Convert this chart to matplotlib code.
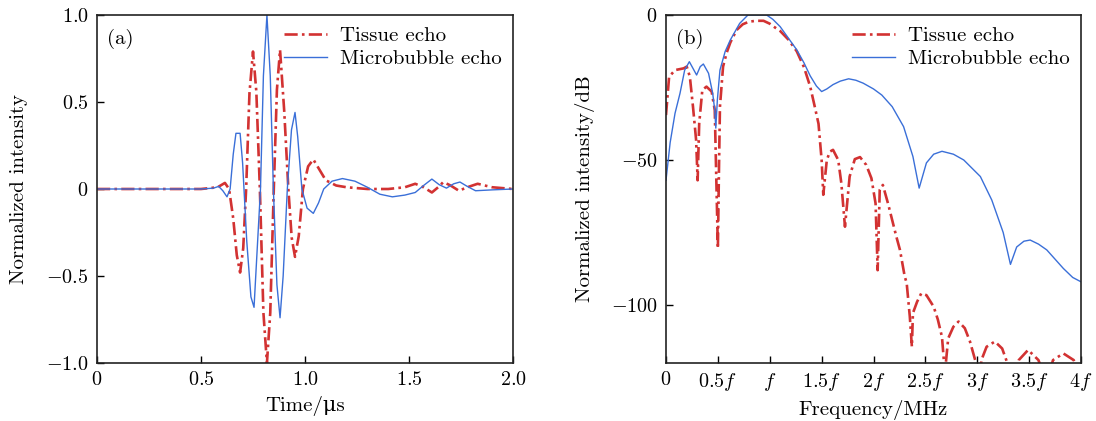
import numpy as np
import matplotlib
matplotlib.use('Agg')
import matplotlib.pyplot as plt

plt.rcParams['font.family'] = ['cmr10', 'DejaVu Serif']
plt.rcParams['mathtext.fontset'] = 'cm'
plt.rcParams['axes.formatter.use_mathtext'] = True
plt.rcParams['font.size'] = 15

RED = '#d23232'
BLUE = '#3a6fd8'

# (a) time-domain echoes
t_tissue = [0.0, 0.5, 0.58, 0.615, 0.635, 0.655, 0.672, 0.688, 0.703, 0.717,
            0.733, 0.75, 0.766, 0.783, 0.80, 0.817, 0.833, 0.85, 0.865, 0.88,
            0.90, 0.92, 0.936, 0.952, 0.97, 0.99, 1.015, 1.04, 1.07, 1.10,
            1.15, 1.2, 1.3, 1.4, 1.48, 1.53, 1.57, 1.61, 1.64, 1.665,
            1.70, 1.74, 1.78, 1.83, 1.9, 2.0]
v_tissue = [0.0, 0.0, 0.01, 0.035, 0.0, -0.17, -0.38, -0.48, -0.34, 0.0,
            0.55, 0.79, 0.56, 0.0, -0.71, -1.0, -0.71, 0.0, 0.57, 0.80,
            0.45, 0.0, -0.28, -0.39, -0.27, 0.0, 0.13, 0.17, 0.11, 0.05,
            0.02, 0.01, 0.0, 0.0, 0.01, 0.03, 0.01, -0.02, 0.01, 0.04,
            0.02, -0.01, 0.01, 0.03, 0.01, 0.0]

t_bubble = [0.0, 0.5, 0.56, 0.585, 0.605, 0.625, 0.64, 0.655, 0.668, 0.688,
            0.70, 0.72, 0.74, 0.755, 0.77, 0.786, 0.80, 0.817, 0.833, 0.848,
            0.865, 0.88, 0.895, 0.915, 0.935, 0.952, 0.965, 0.985, 1.01, 1.04,
            1.065, 1.09, 1.13, 1.18, 1.24, 1.3, 1.36, 1.42, 1.48, 1.53,
            1.57, 1.61, 1.645, 1.68, 1.715, 1.745, 1.78, 1.82, 1.9, 2.0]
v_bubble = [0.0, 0.0, 0.005, 0.015, -0.01, -0.045, 0.0, 0.2, 0.32, 0.32,
            0.15, -0.3, -0.62, -0.68, -0.35, 0.0, 0.65, 1.0, 0.65, 0.0,
            -0.55, -0.74, -0.5, 0.0, 0.34, 0.44, 0.3, 0.0, -0.11, -0.14,
            -0.08, 0.0, 0.045, 0.06, 0.045, 0.01, -0.03, -0.045, -0.035, -0.02,
            0.02, 0.057, 0.025, 0.005, 0.03, 0.04, 0.015, -0.01, -0.005, 0.0]

# (b) spectra in dB, frequency in units of f
f_tissue = [0.0, 0.03, 0.087, 0.17, 0.2, 0.23, 0.26, 0.29, 0.305, 0.32,
            0.35, 0.39, 0.44, 0.47, 0.48, 0.50, 0.51, 0.52, 0.55, 0.585,
            0.62, 0.68, 0.74, 0.80, 0.87, 0.94, 1.0, 1.05, 1.10, 1.18,
            1.26, 1.33, 1.39, 1.43, 1.47, 1.50, 1.516, 1.55, 1.58, 1.61,
            1.66, 1.69, 1.725, 1.77, 1.82, 1.87, 1.93, 1.98, 2.02, 2.04,
            2.06, 2.09, 2.14, 2.22, 2.255, 2.30, 2.32, 2.35, 2.37, 2.38,
            2.42, 2.46, 2.51, 2.58, 2.62, 2.66, 2.68, 2.69, 2.70, 2.72,
            2.77, 2.82, 2.88, 2.93, 2.98, 3.0, 3.03, 3.04, 3.09, 3.17,
            3.24, 3.28, 3.32, 3.37, 3.40, 3.49, 3.59, 3.63, 3.70, 3.73,
            3.83, 3.93, 3.97, 4.0]
db_tissue = [-34.5, -21.3, -19, -18.4, -17.8, -21.3, -31.6, -43, -57, -37.4,
             -25.9, -24.7, -26.4, -32.8, -48.9, -80.5, -54.6, -31.6, -17.8, -13,
             -9.5, -5.2, -3.2, -2.3, -2.0, -2.0, -3.0, -4.3, -5.5, -8.5,
             -12.5, -18, -24.7, -31, -37.5, -50, -62, -50, -47.1, -46.5,
             -50, -58, -73, -55.7, -49.7, -49, -51.7, -56.3, -65, -88,
             -60.3, -58.6, -65, -76.4, -81, -90, -92.5, -104, -114.4, -102.8,
             -98.9, -96, -96.6, -100.6, -105, -111, -120, -124, -119, -111.5,
             -107.5, -105.7, -108, -112.6, -119, -124, -124, -119, -114.4, -112.6,
             -115, -119, -123, -123, -119, -115.5, -119, -123, -123, -119,
             -116.7, -119, -123, -124]

f_bubble = [0.0, 0.04, 0.087, 0.135, 0.18, 0.225, 0.26, 0.295, 0.33, 0.36,
            0.41, 0.45, 0.47, 0.48, 0.495, 0.52, 0.57, 0.62, 0.71, 0.79,
            0.88, 0.97, 1.03, 1.10, 1.18, 1.26, 1.33, 1.39, 1.45, 1.50,
            1.55, 1.61, 1.68, 1.76, 1.83, 1.90, 2.0, 2.08, 2.18, 2.29,
            2.38, 2.44, 2.51, 2.58, 2.66, 2.77, 2.87, 3.03, 3.14, 3.25,
            3.32, 3.38, 3.45, 3.51, 3.59, 3.67, 3.83, 3.92, 4.0]
db_bubble = [-57, -44, -33.9, -27, -19, -16.1, -18.4, -20.7, -17.8, -16.9,
             -20.1, -27, -32.8, -39, -29.3, -19, -12.6, -8.6, -2.9, 0.0,
             0.0, 0.0, -1.5, -4, -8, -12, -16.5, -21, -24.5, -26.4,
             -25.5, -24, -22.8, -22, -22.5, -23.5, -25.5, -27.6, -31.6, -38.5,
             -48.8, -59.7, -51, -48, -47, -48, -50, -55.7, -63.8, -75,
             -86, -80, -78, -77.6, -79, -81, -87.4, -90.5, -92]

ticks_a_x = [0, 0.5, 1.0, 1.5, 2.0]
labels_a_x = ['$0$', '$0.5$', '$1.0$', '$1.5$', '$2.0$']
ticks_a_y = [-1.0, -0.5, 0, 0.5, 1.0]
labels_a_y = ['$-1.0$', '$-0.5$', '$0$', '$0.5$', '$1.0$']
ticks_b_x = [0, 0.5, 1, 1.5, 2, 2.5, 3, 3.5, 4]
labels_b_x = ['$0$', '$0.5f$', '$f$', '$1.5f$', '$2f$', '$2.5f$', '$3f$', '$3.5f$', '$4f$']
ticks_b_y = [-100, -50, 0]
labels_b_y = ['$-100$', '$-50$', '$0$']

fig = plt.figure(figsize=(10.96, 4.21), dpi=100)
ax1 = fig.add_axes([97 / 1096, 1 - 363 / 421, 416 / 1096, 348 / 421])
ax2 = fig.add_axes([666 / 1096, 1 - 363 / 421, 415 / 1096, 348 / 421])

dash = (0, (5, 1.6, 1.0, 1.6))

for ax in (ax1, ax2):
    for sp in ax.spines.values():
        sp.set_linewidth(1.2)
        sp.set_color('#222222')
    ax.tick_params(direction='in', length=5, width=1.0, top=False, right=False,
                   labelsize=14.5, pad=6)

ax1.plot(t_tissue, v_tissue, color=RED, lw=1.9, linestyle=dash, label='Tissue echo')
ax1.plot(t_bubble, v_bubble, color=BLUE, lw=1.0, label='Microbubble echo')
ax1.set_xlim(0, 2.0)
ax1.set_ylim(-1.0, 1.0)
ax1.set_xticks(ticks_a_x, labels_a_x)
ax1.set_yticks(ticks_a_y, labels_a_y)
ax1.set_xlabel('Time/μs', fontsize=15, labelpad=5)
ax1.set_ylabel('Normalized intensity', fontsize=15, labelpad=13)
ax1.text(0.025, 0.96, '(a)', transform=ax1.transAxes, ha='left', va='top', fontsize=15)
ax1.legend(loc='upper right', frameon=False, fontsize=15, handlelength=2.1,
           handletextpad=0.6, borderaxespad=0.15, labelspacing=0.2)

ax2.plot(f_tissue, db_tissue, color=RED, lw=1.9, linestyle=dash, label='Tissue echo')
ax2.plot(f_bubble, db_bubble, color=BLUE, lw=1.0, label='Microbubble echo')
ax2.set_xlim(0, 4)
ax2.set_ylim(-120, 0)
ax2.set_xticks(ticks_b_x, labels_b_x)
ax2.set_yticks(ticks_b_y, labels_b_y)
ax2.set_xlabel('Frequency/MHz', fontsize=15, labelpad=5)
ax2.set_ylabel('Normalized intensity/dB', fontsize=15, labelpad=11)
ax2.text(0.025, 0.96, '(b)', transform=ax2.transAxes, ha='left', va='top', fontsize=15)
ax2.legend(loc='upper right', frameon=False, fontsize=15, handlelength=2.1,
           handletextpad=0.6, borderaxespad=0.15, labelspacing=0.2)

fig.savefig('out.png', dpi=100)
